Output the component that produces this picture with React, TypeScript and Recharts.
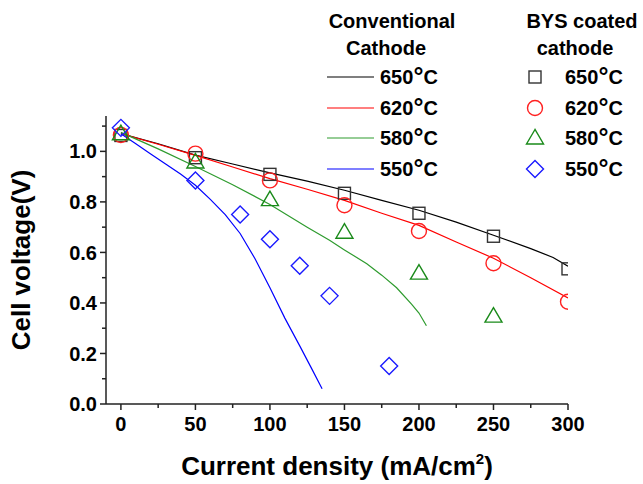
import React from "react";
import { ComposedChart, Line, Scatter, XAxis, YAxis } from "recharts";

// ---- data ----
const tempValues = ["650", "620", "580", "550"];
const lineColors = ["#000000", "#ff0000", "#2e9b2e", "#0000ff"];
const markerColors = ["#333333", "#ff2020", "#1a8a1a", "#1a1aff"];

const xTicks = [0, 25, 50, 75, 100, 125, 150, 175, 200, 225, 250, 275, 300];
const xMajor = [0, 50, 100, 150, 200, 250, 300];
const yTicks = [0, 0.1, 0.2, 0.3, 0.4, 0.5, 0.6, 0.7, 0.8, 0.9, 1.0, 1.1];

// Conventional cathode (lines)
const conv650: [number, number][] = [[0, 1.07], [25, 1.03], [50, 0.985], [75, 0.95], [100, 0.915], [125, 0.882], [150, 0.846], [175, 0.806], [200, 0.767], [225, 0.72], [250, 0.668], [275, 0.615], [290, 0.58], [300, 0.545]];
const conv620: [number, number][] = [[0, 1.07], [25, 1.028], [50, 0.984], [75, 0.938], [100, 0.892], [125, 0.85], [150, 0.806], [175, 0.755], [200, 0.707], [225, 0.641], [250, 0.577], [275, 0.5], [300, 0.42]];
const conv580: [number, number][] = [[0, 1.075], [25, 1.01], [50, 0.94], [75, 0.868], [100, 0.79], [125, 0.7], [140, 0.648], [150, 0.61], [165, 0.555], [175, 0.51], [185, 0.46], [195, 0.395], [200, 0.36], [205, 0.31]];
const conv550: [number, number][] = [[0, 1.07], [10, 1.03], [20, 0.99], [30, 0.95], [40, 0.91], [50, 0.866], [60, 0.81], [70, 0.75], [80, 0.675], [90, 0.575], [100, 0.46], [110, 0.34], [120, 0.23], [128, 0.14], [135, 0.06]];

// BYS coated cathode (markers)
const bys650: [number, number][] = [[0, 1.063], [50, 0.975], [100, 0.909], [150, 0.834], [200, 0.755], [250, 0.664], [300, 0.535]];
const bys620: [number, number][] = [[0, 1.065], [50, 0.991], [100, 0.885], [150, 0.787], [200, 0.685], [250, 0.557], [300, 0.405]];
const bys580: [number, number][] = [[0, 1.07], [50, 0.958], [100, 0.809], [150, 0.68], [200, 0.518], [250, 0.348]];
const bys550: [number, number][] = [[0, 1.093], [50, 0.885], [80, 0.75], [100, 0.652], [120, 0.547], [140, 0.428], [180, 0.15]];

const toPts = (a: [number, number][]) => a.map(([x, v]) => ({ x, v }));
const convSeries = [conv650, conv620, conv580, conv550].map(toPts);
const bysSeries = [bys650, bys620, bys580, bys550].map(toPts);

const FONT = "'Liberation Sans', Arial, sans-serif";
const AXIS = "#222222";

// ---- marker shapes ----
const drawMarker = (kind: number, cx: number, cy: number, color: string, key?: string) => {
  const sw = 1.4;
  if (kind === 0)
    return <rect key={key} x={cx - 6} y={cy - 6} width={12} height={12} fill="none" stroke={color} strokeWidth={sw} />;
  if (kind === 1) return <circle key={key} cx={cx} cy={cy} r={7.5} fill="none" stroke={color} strokeWidth={sw} />;
  if (kind === 2)
    return (
      <polygon key={key} points={`${cx},${cy - 8.5} ${cx - 8.5},${cy + 6} ${cx + 8.5},${cy + 6}`} fill="none" stroke={color} strokeWidth={sw} />
    );
  return (
    <polygon key={key} points={`${cx},${cy - 8.5} ${cx + 8.5},${cy} ${cx},${cy + 8.5} ${cx - 8.5},${cy}`} fill="none" stroke={color} strokeWidth={sw} />
  );
};

const makeShape = (kind: number) => (props: any) => {
  const { cx, cy } = props;
  if (cx == null || cy == null) return <g />;
  return drawMarker(kind, cx, cy, markerColors[kind]);
};

// ---- ticks ----
const XTick = (props: any) => {
  const { x, y, payload } = props;
  const v = payload.value;
  const major = xMajor.includes(v);
  return (
    <g>
      <line x1={x} y1={y} x2={x} y2={y + (major ? 6 : 4)} stroke={AXIS} strokeWidth={1.5} />
      {major && (
        <text x={x} y={y + 13} dy="0.71em" textAnchor="middle" fontFamily={FONT} fontWeight="bold" fontSize={20} fill="#000">
          {v}
        </text>
      )}
    </g>
  );
};

const YTick = (props: any) => {
  const { x, y, payload } = props;
  const v = payload.value;
  const major = Math.round(v * 10) % 2 === 0;
  return (
    <g>
      <line x1={x - (major ? 6 : 4)} y1={y} x2={x} y2={y} stroke={AXIS} strokeWidth={1.5} />
      {major && (
        <text x={x - 9} y={y} dy="0.355em" textAnchor="end" fontFamily={FONT} fontWeight="bold" fontSize={20} fill="#000">
          {v.toFixed(1)}
        </text>
      )}
    </g>
  );
};

const XLabel = (props: any) => {
  const vb = props.viewBox;
  const cx = vb.x + vb.width / 2;
  return (
    <text x={cx} y={475} textAnchor="middle" fontFamily={FONT} fontWeight="bold" fontSize={26} fill="#000">
      Current density (mA/cm
      <tspan fontSize={15} dy={-11}>2</tspan>
      <tspan dy={11}>)</tspan>
    </text>
  );
};

const YLabel = (props: any) => {
  const vb = props.viewBox;
  const cy = vb.y + vb.height / 2;
  return (
    <text
      x={30}
      y={cy}
      transform={`rotate(-90 30 ${cy})`}
      textAnchor="middle"
      fontFamily={FONT}
      fontWeight="bold"
      fontSize={26}
      fill="#000"
    >
      Cell voltage(V)
    </text>
  );
};

const TempText = ({ x, y, t }: { x: number; y: number; t: string }) => (
  <text x={x} y={y} fontFamily={FONT} fontWeight="bold" fontSize={20} fill="#000">
    {t}
    <tspan fontSize={25} dy={1}>°</tspan>
    <tspan dy={-1}>C</tspan>
  </text>
);

const Legend = () => {
  const rowsY = [77, 108, 138, 169];
  const txt = { fontFamily: FONT, fontWeight: "bold" as const, fontSize: 20, fill: "#000" };
  return (
    <svg width={643} height={200} style={{ position: "absolute", left: 0, top: 0, pointerEvents: "none" }}>
      <text x={392} y={28} textAnchor="middle" {...txt}>Conventional</text>
      <text x={386} y={55} textAnchor="middle" {...txt}>Cathode</text>
      <text x={582} y={28} textAnchor="middle" {...txt}>BYS coated</text>
      <text x={575} y={55} textAnchor="middle" {...txt}>cathode</text>
      {tempValues.map((t, i) => (
        <g key={t}>
          <line x1={327} x2={374} y1={rowsY[i]} y2={rowsY[i]} stroke={lineColors[i]} strokeWidth={1.2} />
          <TempText x={380} y={rowsY[i] + 7} t={t} />
          {drawMarker(i, 535, rowsY[i], markerColors[i])}
          <TempText x={565} y={rowsY[i] + 7} t={t} />
        </g>
      ))}
    </svg>
  );
};

export default function App() {
  return (
    <div style={{ position: "absolute", left: 0, top: 0, width: 643, height: 484, background: "#fff" }}>
      <ComposedChart width={643} height={484} margin={{ top: 116, right: 75, bottom: 0, left: 0 }}>
        <XAxis
          dataKey="x"
          type="number"
          domain={[-10, 300]}
          ticks={xTicks}
          interval={0}
          allowDataOverflow
          height={80}
          tickSize={0}
          tickMargin={0}
          tick={<XTick />}
          axisLine={{ stroke: AXIS, strokeWidth: 1.5 }}
          label={<XLabel />}
        />
        <YAxis
          type="number"
          domain={[0, 1.14]}
          ticks={yTicks}
          interval={0}
          allowDataOverflow
          width={106}
          tickSize={0}
          tickMargin={0}
          tick={<YTick />}
          axisLine={{ stroke: AXIS, strokeWidth: 1.5 }}
          label={<YLabel />}
        />
        {convSeries.map((d, i) => (
          <Line
            key={"l" + i}
            data={d}
            dataKey="v"
            type="linear"
            stroke={lineColors[i]}
            strokeWidth={1.2}
            dot={false}
            activeDot={false}
            isAnimationActive={false}
          />
        ))}
        {bysSeries.map((d, i) => (
          <Scatter key={"s" + i} data={d} dataKey="v" shape={makeShape(i)} isAnimationActive={false} />
        ))}
      </ComposedChart>
      <Legend />
    </div>
  );
}
